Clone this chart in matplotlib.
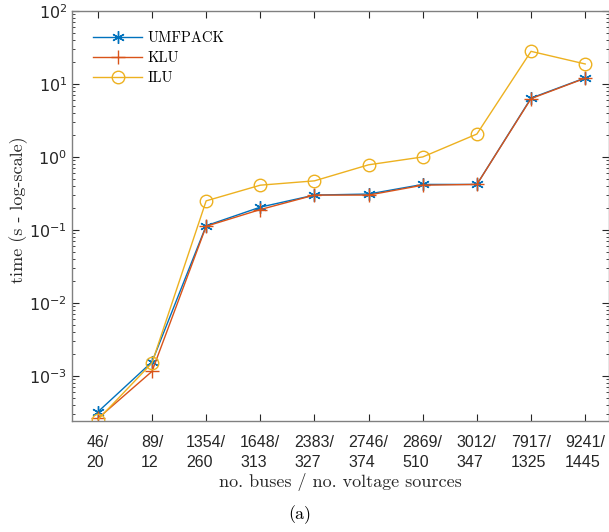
import numpy as np
import matplotlib
matplotlib.use("Agg")
import matplotlib.pyplot as plt

plt.rcParams['mathtext.fontset'] = 'custom'
plt.rcParams['mathtext.rm'] = 'Liberation Sans'
plt.rcParams['mathtext.it'] = 'Liberation Sans'

# ---- data ----
cases = ["46/\n20", "89/\n12", "1354/\n260", "1648/\n313", "2383/\n327",
         "2746/\n374", "2869/\n510", "3012/\n347", "7917/\n1325", "9241/\n1445"]
umfpack = [3.2e-4, 1.55e-3, 0.114, 0.205, 0.30, 0.31, 0.42, 0.42, 6.4, 12.1]
klu = [2.6e-4, 1.15e-3, 0.112, 0.19, 0.30, 0.30, 0.41, 0.42, 6.3, 12.0]
ilu = [2.5e-4, 1.5e-3, 0.25, 0.41, 0.47, 0.78, 1.0, 2.06, 28.0, 18.8]

grey = '#262626'
serif = ['cmr10', 'DejaVu Serif']

fig = plt.figure(figsize=(6.09, 5.32), dpi=100)
ax = fig.add_axes([0.118, 0.2086, 0.882, 0.7707])

x = np.arange(len(cases))
ax.plot(x, umfpack, color='#0072BD', lw=1.0, marker=(6, 2, 0), ms=9, mew=1.0, label='UMFPACK')
ax.plot(x, klu, color='#D95319', lw=1.0, marker='+', ms=10, mew=1.0, label='KLU')
ax.plot(x, ilu, color='#EDB120', lw=1.0, marker='o', ms=9, mew=1.0, mfc='none', label='ILU')

ax.set_yscale('log')
ax.set_ylim(2.4e-4, 100)
ax.set_xlim(-0.48, 9.44)
ax.set_xticks(x)
ax.set_xticklabels(cases, fontsize=11.5, color=grey, family='Liberation Sans',
                   linespacing=1.45, multialignment='left')
ax.set_yticks([1e-3, 1e-2, 1e-1, 1, 10, 100])
ax.tick_params(axis='both', which='both', direction='in', top=True, right=True, colors=grey)
ax.tick_params(axis='both', which='major', length=5, labelsize=11.5)
ax.tick_params(axis='x', which='major', pad=10)
ax.tick_params(axis='y', which='minor', length=2.5)
for s in ax.spines.values():
    s.set_color('#808080')
    s.set_linewidth(1.0)

ax.set_xlabel('no. buses / no. voltage sources', family=serif, fontsize=13, color=grey, labelpad=2)
ax.set_ylabel('time (s - log-scale)', family=serif, fontsize=13, color=grey)
ax.yaxis.set_label_coords(-0.082, 0.515)
fig.text(0.493, 0.032, '(a)', family=serif, fontsize=13, ha='center', va='center')

leg = ax.legend(loc='upper left', bbox_to_anchor=(0.0144, 0.983), frameon=False,
                prop={'family': serif, 'size': 10.5}, handlelength=3.4, labelspacing=0.45,
                handletextpad=0.35)

fig.savefig('out.png', dpi=100)
